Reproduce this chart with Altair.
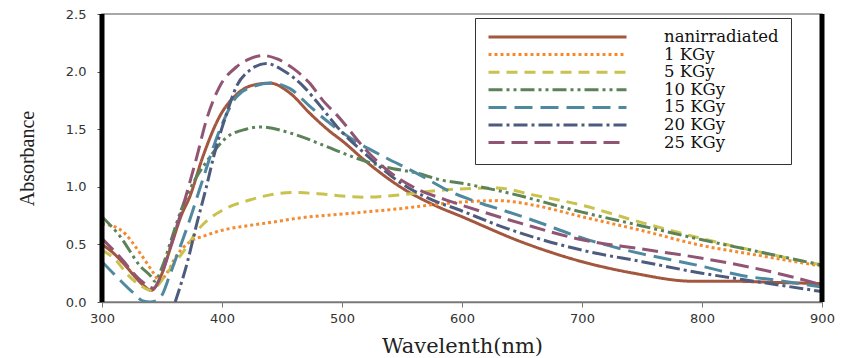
import altair as alt
import pandas as pd

NAMES = ["nanirradiated", "1 KGy", "\u20095 KGy", "10 KGy", "15 KGy", "20 KGy", "25 KGy"]
COLORS = ["#A3573F", "#F58A2E", "#C9C24E", "#5B8259", "#4F89A0", "#4D5B7E", "#905573"]
DASHES = [[1, 0], [3, 3], [11, 7], [14, 4, 3, 4, 3, 4], [18, 8], [14, 4, 3, 4], [16, 7]]

# nanirradiated
WL_0 = [300, 310, 320, 330, 335, 341, 348, 358, 366, 373, 384, 398, 412, 425, 440, 457, 473, 490, 500, 520, 550, 575, 600, 650, 700, 743, 793, 826, 860, 900]
A_0 = [0.50, 0.42, 0.31, 0.19, 0.14, 0.10, 0.20, 0.50, 0.75, 0.91, 1.26, 1.61, 1.80, 1.88, 1.90, 1.81, 1.64, 1.48, 1.40, 1.22, 0.99, 0.85, 0.74, 0.52, 0.35, 0.25, 0.18, 0.18, 0.17, 0.16]
# 1 KGy
WL_1 = [300, 315, 334, 343, 348, 354, 362, 373, 387, 401, 420, 440, 465, 507, 548, 590, 630, 660, 700, 750, 800, 850, 900]
A_1 = [0.68, 0.63, 0.39, 0.25, 0.18, 0.25, 0.40, 0.52, 0.58, 0.625, 0.66, 0.69, 0.73, 0.77, 0.81, 0.86, 0.88, 0.84, 0.74, 0.62, 0.49, 0.40, 0.31]
# 5 KGy
WL_2 = [300, 310, 323, 334, 341, 347, 354, 368, 382, 401, 423, 440, 460, 480, 500, 520, 548, 582, 629, 659, 700, 743, 800, 850, 900]
A_2 = [0.45, 0.38, 0.22, 0.13, 0.10, 0.15, 0.25, 0.44, 0.65, 0.80, 0.885, 0.93, 0.95, 0.94, 0.92, 0.91, 0.93, 0.97, 0.99, 0.93, 0.84, 0.71, 0.55, 0.43, 0.32]
# 10 KGy
WL_3 = [300, 315, 332, 341, 344, 350, 358, 366, 373, 390, 404, 420, 432, 459, 487, 509, 537, 562, 582, 600, 629, 700, 750, 800, 850, 900]
A_3 = [0.74, 0.57, 0.31, 0.22, 0.18, 0.30, 0.55, 0.80, 0.97, 1.26, 1.43, 1.50, 1.52, 1.46, 1.35, 1.26, 1.17, 1.12, 1.06, 1.03, 0.97, 0.78, 0.66, 0.54, 0.43, 0.32]
# 15 KGy
WL_4 = [300, 315, 326, 334, 340, 345, 350, 356, 362, 373, 382, 398, 412, 426, 441, 457, 473, 490, 509, 537, 560, 594, 612, 636, 659, 702, 737, 800, 833, 865, 900]
A_4 = [0.35, 0.19, 0.08, 0.01, 0.0, 0.01, 0.06, 0.22, 0.39, 0.71, 1.0, 1.49, 1.78, 1.87, 1.90, 1.85, 1.70, 1.55, 1.41, 1.25, 1.13, 0.94, 0.87, 0.79, 0.71, 0.55, 0.45, 0.31, 0.23, 0.185, 0.13]
# 20 KGy
WL_5 = [361, 371, 379, 387, 393, 404, 412, 423, 437, 451, 468, 482, 496, 520, 548, 570, 600, 629, 700, 750, 800, 850, 900]
A_5 = [0.0, 0.34, 0.68, 1.0, 1.26, 1.64, 1.87, 2.01, 2.07, 2.01, 1.87, 1.70, 1.52, 1.28, 1.04, 0.91, 0.79, 0.67, 0.45, 0.35, 0.25, 0.17, 0.09]
# 25 KGy
WL_6 = [300, 315, 332, 343, 350, 357, 368, 379, 387, 398, 412, 423, 434, 446, 459, 473, 484, 496, 520, 537, 559, 587, 600, 650, 700, 750, 800, 850, 900]
A_6 = [0.55, 0.39, 0.19, 0.12, 0.25, 0.48, 0.85, 1.26, 1.58, 1.87, 2.04, 2.11, 2.14, 2.11, 2.03, 1.90, 1.75, 1.62, 1.32, 1.15, 1.0, 0.885, 0.84, 0.68, 0.54, 0.46, 0.38, 0.28, 0.15]

X_TICKS = [300, 400, 500, 600, 700, 800, 900]
Y_TICKS = [0.0, 0.5, 1.0, 1.5, 2.0, 2.5]
X_EDGES = [300, 900]

series = [(WL_0, A_0), (WL_1, A_1), (WL_2, A_2), (WL_3, A_3), (WL_4, A_4), (WL_5, A_5), (WL_6, A_6)]
rows = []
for name, (wl, a) in zip(NAMES, series):
    for w, v in zip(wl, a):
        rows.append({"s": name, "wl": w, "a": v})
df = pd.DataFrame(rows)

x_axis = alt.Axis(values=X_TICKS, format="d", grid=False, labelFlush=False,
                  labelFont="DejaVu Sans", labelFontSize=13, labelColor="#333",
                  tickColor="#777", tickSize=5, domainColor="#777", domainWidth=1.5,
                  labelPadding=5,
                  title="Wavelenth(nm)", titleFont="DejaVu Serif", titleFontSize=21,
                  titleFontWeight="normal", titleColor="#222", titleY=50,
                  titleBaseline="alphabetic")
y_axis = alt.Axis(values=Y_TICKS, format=".1f", grid=False,
                  labelFont="DejaVu Sans", labelFontSize=13, labelColor="#333",
                  tickColor="#555", tickSize=5, domain=False, labelPadding=11,
                  title="Absorbance", titleFont="Liberation Serif", titleFontSize=20,
                  titleFontWeight="normal", titleColor="#222", titleX=-69, titleY=144,
                  titleAngle=270, titleAlign="center", titleBaseline="alphabetic")

x_scale = alt.Scale(domain=[300, 900], nice=False, zero=False)
y_scale = alt.Scale(domain=[0, 2.5], nice=False)

legend = alt.Legend(title=None, orient="none", legendX=373, legendY=4,
                    symbolType="stroke", symbolSize=19044, symbolStrokeWidth=3,
                    clipHeight=14, rowPadding=0.6,
                    labelFont="DejaVu Serif", labelFontSize=16.5, labelColor="#111",
                    labelOffset=36, labelLimit=400, padding=12,
                    strokeColor="#333", fillColor="white")

lines = alt.Chart(df).mark_line(strokeWidth=3, interpolate="monotone", clip=True).encode(
    x=alt.X("wl:Q", scale=x_scale, axis=x_axis),
    y=alt.Y("a:Q", scale=y_scale, axis=y_axis),
    color=alt.Color("s:N", scale=alt.Scale(domain=NAMES, range=COLORS), legend=legend, sort=NAMES),
    strokeDash=alt.StrokeDash("s:N", scale=alt.Scale(domain=NAMES, range=DASHES), legend=legend, sort=NAMES),
)

edges = alt.Chart(pd.DataFrame({"wl": X_EDGES})).mark_rule(color="black", strokeWidth=5).encode(
    x=alt.X("wl:Q", scale=x_scale, axis=x_axis),
    y=alt.datum(0),
    y2=alt.datum(2.5),
)

chart = alt.layer(lines, edges).properties(
    width=720, height=288,
    autosize=alt.AutoSizeParams(type="none"),
    padding={"left": 102, "top": 14, "right": 19, "bottom": 56},
    background="white",
).configure_view(stroke="#8a8a8a", strokeWidth=1.5)

chart.save("out.html", embed_options={"renderer": "svg", "actions": False})
